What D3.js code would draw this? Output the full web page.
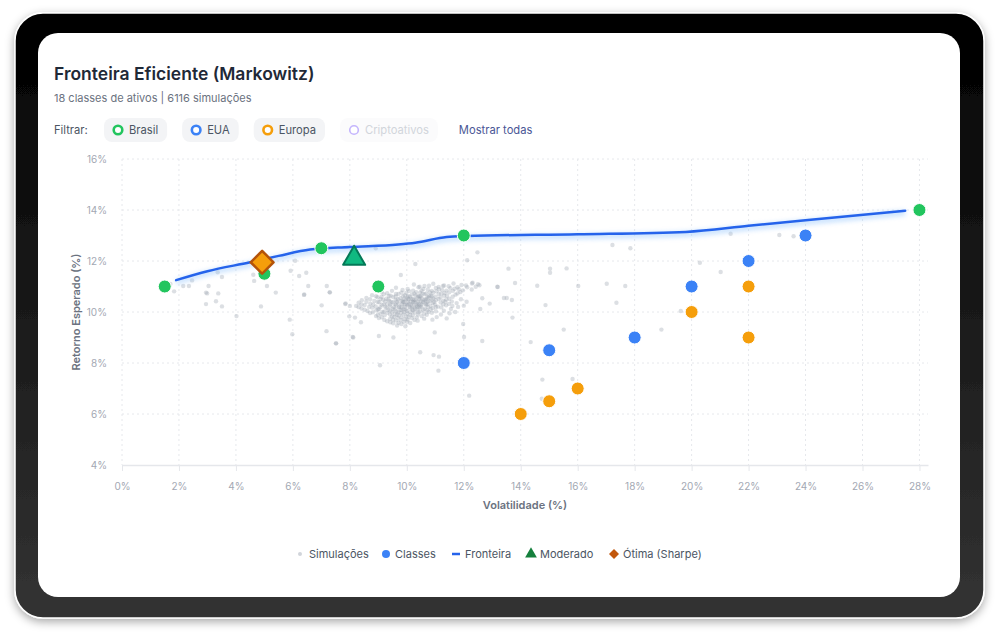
<!DOCTYPE html>
<html>
<head>
<meta charset="utf-8">
<script src="https://cdn.jsdelivr.net/npm/d3@7"></script>
<style>
  body { margin: 0; background: #fff; }
  svg { display: block; font-family: Inter, "Noto Sans", sans-serif; }
</style>
</head>
<body>
<div id="chart"></div>
<script>
// Asset classes by region: [volatility %, expected return %]
var brasil = [[1.5, 11], [5, 11.5], [7, 12.5], [9, 11], [12, 13], [28, 14]];
var eua = [[12, 8], [15, 8.5], [18, 9], [20, 11], [22, 12], [24, 13]];
var europa = [[14, 6], [15, 6.5], [16, 7], [20, 10], [22, 11], [22, 9]];

// Efficient frontier
var frontier = [[1.9, 11.25], [3, 11.6], [4.5, 11.95], [5.5, 12.2], [6.6, 12.45], [8, 12.55],
  [9.7, 12.65], [10.3, 12.72], [11.4, 12.94], [12.1, 12.98], [16, 13.05], [19.8, 13.14],
  [22, 13.38], [24, 13.6], [27.5, 13.97]];

var moderado = [8.15, 12.1];
var otima = [4.92, 11.95];

// Simulated portfolios scattered around the chart
var simulacoes = [
  [1.83,10.81],[2.15,11.02],[2.35,11.02],[2.46,11.24],[2.95,10.76],[3.04,11.02],[2.95,10.31],[3.3,10.42],
  [3.38,10.73],[3.51,10.22],[3.36,11.56],[3.51,11.37],[4.02,9.84],[4.61,11.46],[4.64,11.22],[4.88,10.22],
  [5.09,11.02],[5.4,10.76],[5.89,9.7],[5.98,9.13],[5.92,11.62],[6.08,12.01],[6.22,11.41],[6.47,11.54],
  [6.39,10.67],[6.54,11.02],[7.01,10.26],[7.19,11.02],[7.29,10.77],[7.18,9.25],[7.52,8.77],[7.84,10.31],
  [8.0,10.24],[7.98,9.83],[8.1,9.02],[8.18,9.78],[2.99,10.73],[8.91,12.5],[10.3,11.88],[12.48,12.34],
  [12.12,12.03],[17.22,12.63],[17.85,12.5],[21.37,13.07],[23.08,13.02],[23.58,12.97],[20.29,11.93],[21.02,11.57],
  [13.57,11.7],[15.03,11.7],[15.03,11.54],[15.61,11.71],[13.8,11.14],[14.58,11.03],[13.19,10.98],[16.02,11.02],
  [17.02,11.11],[17.67,11.02],[17.36,10.36],[14.87,10.27],[13.41,10.55],[13.69,10.47],[12.91,10.33],[12.65,10.54],
  [12.58,10.12],[13.71,9.78],[11.98,9.53],[12.01,9.02],[12.65,8.86],[14.35,8.82],[15.51,9.31],[18.94,9.31],
  [19.62,10.04],[14.76,7.35],[15.82,7.37],[14.74,6.6],[12.19,6.72],[11.27,11.02],[12.29,11.12],[12.5,11.09],
  [6.4,10.69],[7.3,10.77],[7.85,10.34],[8.39,9.6],[7.51,8.77],[8.12,9.0],[9.02,9.06],[9.53,9.0],
  [9.06,7.91],[9.79,11.45],[10.47,8.42],[10.94,8.31],[11.13,8.25],[11.11,7.7],[13.18,10.99],[13.51,10.55],
  [10.98,9.2],[1.7,11.1]
];

// Simulated portfolios in the dense cloud
var nuvem = [
  [10.25,11.08],[10.62,11.02],[10.93,11.11],[11.31,11.04],[11.64,11.12],[11.92,11.06],[12.31,11.15],[12.55,11.05],
  [9.62,10.95],[10.03,10.9],[10.41,10.97],[10.74,10.88],[11.02,10.94],[11.24,10.86],[11.53,10.93],[11.83,10.89],[12.12,10.97],
  [9.12,10.79],[9.48,10.83],[9.81,10.76],[10.08,10.82],[10.33,10.78],[10.52,10.84],[10.81,10.77],[11.04,10.81],
  [11.33,10.75],[11.62,10.83],[11.88,10.78],
  [8.78,10.66],[9.19,10.7],[9.43,10.64],[9.71,10.71],[9.93,10.66],[10.18,10.69],[10.41,10.63],[10.62,10.7],
  [10.84,10.65],[11.12,10.71],[11.41,10.64],[11.71,10.68],
  [8.58,10.55],[8.97,10.58],[9.28,10.52],[9.52,10.59],[9.77,10.54],[10.02,10.57],[10.21,10.51],[10.38,10.58],
  [10.53,10.54],[10.72,10.59],[10.93,10.53],[11.18,10.57],[11.49,10.52],
  [8.42,10.46],[8.86,10.43],[9.17,10.48],[9.39,10.42],[9.61,10.47],[9.82,10.44],[9.98,10.49],[10.13,10.41],
  [10.31,10.46],[10.49,10.43],[10.62,10.48],[10.81,10.42],[11.02,10.46],[11.28,10.44],[11.58,10.41],
  [8.31,10.36],[8.72,10.33],[9.03,10.38],[9.31,10.31],[9.52,10.37],[9.71,10.34],[9.91,10.39],[10.08,10.32],
  [10.23,10.36],[10.41,10.33],[10.58,10.38],[10.72,10.31],[10.91,10.35],[11.19,10.37],[11.48,10.32],
  [8.22,10.24],[8.52,10.27],[8.91,10.22],[9.12,10.28],[9.41,10.23],[9.62,10.26],[9.81,10.21],[10.02,10.27],
  [10.18,10.23],[10.33,10.26],[10.51,10.22],[10.68,10.27],[10.83,10.24],[11.09,10.21],[11.38,10.26],
  [8.41,10.14],[8.79,10.17],[9.03,10.12],[9.29,10.16],[9.51,10.13],[9.72,10.18],[9.89,10.11],[10.12,10.16],
  [10.29,10.13],[10.42,10.17],[10.63,10.12],[10.91,10.15],[11.21,10.18],
  [8.62,10.04],[8.93,10.07],[9.21,10.02],[9.42,10.06],[9.63,10.03],[9.82,10.08],[10.01,10.04],[10.22,10.06],
  [10.48,10.02],[10.71,10.07],[11.02,10.03],
  [8.71,9.96],[9.08,9.93],[9.32,9.97],[9.58,9.92],[9.79,9.96],[10.02,9.94],[10.28,9.98],[10.61,9.93],[10.88,9.97],
  [8.92,9.84],[9.22,9.87],[9.48,9.83],[9.72,9.86],[9.98,9.82],[10.21,9.87],[10.52,9.84],
  [9.02,9.76],[9.41,9.73],[9.68,9.77],[9.92,9.72],[10.18,9.76],[10.61,9.74],
  [9.31,9.64],[9.62,9.67],[9.89,9.62],[10.38,9.66],
  [9.52,9.56],[9.81,9.53],[10.12,9.57],
  [10.15,10.52],[10.45,10.61],[10.27,10.39],[10.66,10.44],[10.37,10.21],[9.93,10.29],[10.55,10.72],[10.76,10.55],
  [10.05,10.62],[9.86,10.41],[10.44,10.29],[10.88,10.63],
  [10.45,10.99],[10.78,11.03],[11.12,10.98],[11.47,11.01],[11.78,10.97],[12.08,11.04],[12.42,10.99],
  [9.85,10.86],[10.22,10.84],[10.58,10.9],[10.88,10.83],[11.13,10.89],[11.39,10.84],[11.68,10.91],[11.97,10.85],[12.28,10.88],
  [9.31,10.74],[9.62,10.71],[9.98,10.75],[10.27,10.72],[10.47,10.76],[10.68,10.73],[10.93,10.76],[11.21,10.72],
  [11.49,10.77],[11.78,10.73],
  [8.92,10.62],[9.11,10.6],[9.37,10.63],[9.61,10.61],[9.87,10.62],[10.11,10.6],[10.31,10.64],[10.49,10.61],
  [10.78,10.62],[11.01,10.6],[11.31,10.64],[11.61,10.6],
  [8.71,10.5],[9.08,10.51],[9.36,10.49],[9.69,10.5],[9.91,10.52],[10.06,10.5],[10.26,10.48],[10.44,10.51],
  [10.67,10.5],[10.87,10.49],[11.12,10.51],[11.39,10.49],
  [8.58,10.4],[8.98,10.39],[9.24,10.41],[9.46,10.39],[9.66,10.4],[9.87,10.38],[10.04,10.4],[10.21,10.39],
  [10.38,10.41],[10.55,10.39],[10.74,10.4],[10.96,10.39],[11.35,10.4],
  [8.41,10.3],[8.82,10.29],[9.19,10.3],[9.42,10.29],[9.6,10.31],[9.83,10.29],[10.0,10.3],[10.15,10.29],
  [10.36,10.3],[10.52,10.29],[10.67,10.31],[10.99,10.29],[11.28,10.3],
  [8.31,10.19],[8.68,10.2],[9.07,10.19],[9.24,10.21],[9.55,10.19],[9.73,10.2],[9.93,10.19],[10.1,10.2],
  [10.26,10.19],[10.47,10.2],[10.75,10.19],[11.02,10.2],
  [8.52,10.09],[8.99,10.1],[9.35,10.09],[9.58,10.1],[9.78,10.09],[9.96,10.1],[10.19,10.09],[10.37,10.1],
  [10.57,10.09],[10.84,10.1],
  [8.81,9.99],[9.15,10.0],[9.48,9.99],[9.7,10.0],[9.91,9.99],[10.13,10.0],[10.41,9.99],[10.76,10.0],
  [8.98,9.89],[9.41,9.9],[9.65,9.89],[9.88,9.9],[10.12,9.89],[10.39,9.9],[10.7,9.89],
  [9.12,9.79],[9.55,9.8],[9.81,9.79],[10.06,9.8],[10.35,9.79],
  [9.21,9.69],[9.52,9.7],[9.78,9.69],[10.03,9.7],[10.27,9.69],
  [9.42,9.6],[9.71,9.58],[10.01,9.62],[9.66,9.47],[9.95,9.44],
  [11.3,10.05],[11.55,10.12],[11.8,10.2],[11.2,9.9],[11.5,9.95],[11.05,9.8],[11.4,9.75],[10.9,9.7],
  [11.7,10.0],[12.0,10.25],[12.1,10.4],[11.9,10.5],[11.75,10.35],[11.6,10.24]
];

var xTicks = [0, 2, 4, 6, 8, 10, 12, 14, 16, 18, 20, 22, 24, 26, 28];
var yTicks = [4, 6, 8, 10, 12, 14, 16];

var filtros = ['Brasil', 'EUA', 'Europa', 'Criptoativos'];
var filtroCores = ['#22c55e', '#3b82f6', '#f59e0b', '#c4b5fd'];

var legendLabels = ['Simulações', 'Classes', 'Fronteira', 'Moderado', 'Ótima (Sharpe)'];

var width = 999, height = 633;

var svg = d3.select('#chart').append('svg')
  .attr('width', width)
  .attr('height', height);

var defs = svg.append('defs');
var grad = defs.append('linearGradient').attr('id', 'frameGrad')
  .attr('x1', 0).attr('y1', 0).attr('x2', 0).attr('y2', 1);
grad.append('stop').attr('offset', '0%').attr('stop-color', '#000');
grad.append('stop').attr('offset', '100%').attr('stop-color', '#333');

defs.append('filter').attr('id', 'shadow')
  .attr('x', '-5%').attr('y', '-5%').attr('width', '110%').attr('height', '115%')
  .append('feDropShadow')
  .attr('dx', 0).attr('dy', 3).attr('stdDeviation', 5)
  .attr('flood-color', '#000').attr('flood-opacity', 0.35);

defs.append('filter').attr('id', 'glow')
  .attr('x', '-5%').attr('y', '-50%').attr('width', '110%').attr('height', '200%')
  .append('feGaussianBlur').attr('stdDeviation', 2.5);

// Device frame and screen
svg.append('rect')
  .attr('x', 15).attr('y', 13).attr('width', 969).attr('height', 605).attr('rx', 28)
  .attr('fill', 'url(#frameGrad)')
  .attr('stroke', '#fff').attr('stroke-width', 1.5)
  .attr('filter', 'url(#shadow)');

svg.append('rect')
  .attr('x', 38).attr('y', 33).attr('width', 922).attr('height', 564).attr('rx', 20)
  .attr('fill', '#fff');

// Header
svg.append('text')
  .attr('x', 54).attr('y', 80)
  .attr('fill', '#1f2937')
  .style('font-size', '17.5px').style('font-weight', 600)
  .text('Fronteira Eficiente (Markowitz)');

svg.append('text')
  .attr('x', 54).attr('y', 102)
  .attr('fill', '#6b7280')
  .style('font-size', '11px')
  .text('18 classes de ativos | 6116 simulações');

svg.append('text')
  .attr('x', 54).attr('y', 134)
  .attr('fill', '#4b5563')
  .style('font-size', '11.2px')
  .text('Filtrar:');

// Filter pills
var pillX = 104;
filtros.forEach(function(f, i) {
  var off = i === 3;
  var g = svg.append('g').attr('transform', 'translate(' + pillX + ',118)');
  var bg = g.append('rect').attr('height', 24).attr('rx', 8)
    .attr('fill', off ? '#fbfbfc' : '#f3f4f6');
  g.append('circle').attr('cx', 14).attr('cy', 12).attr('r', 4.3)
    .attr('fill', '#fff')
    .attr('stroke', filtroCores[i]).attr('stroke-width', off ? 1.6 : 2.6);
  var t = g.append('text').attr('x', 25).attr('y', 16)
    .attr('fill', off ? '#d1d5db' : '#4b5563')
    .style('font-size', '11.2px')
    .text(f);
  var w = 25 + t.node().getComputedTextLength() + 9;
  bg.attr('width', w);
  pillX += w + 15;
});

svg.append('text')
  .attr('x', pillX + 6).attr('y', 134)
  .attr('fill', '#4a5696')
  .style('font-size', '11.2px')
  .text('Mostrar todas');

// Scales
var x = d3.scaleLinear().domain([0, 28.3]).range([122, 928]);
var y = d3.scaleLinear().domain([4, 16]).range([465, 159]);

// Grid
var grid = svg.append('g').attr('stroke', '#e6e8ec').attr('stroke-dasharray', '2 3');
grid.selectAll('line.h').data(yTicks.slice(1)).enter().append('line')
  .attr('x1', x(0)).attr('x2', x(28.3))
  .attr('y1', function(d) { return y(d); }).attr('y2', function(d) { return y(d); });
grid.selectAll('line.v').data(xTicks).enter().append('line')
  .attr('y1', y(16)).attr('y2', y(4))
  .attr('x1', function(d) { return x(d); }).attr('x2', function(d) { return x(d); });

// X axis
var xAxis = svg.append('g')
  .attr('transform', 'translate(0,' + y(4) + ')')
  .call(d3.axisBottom(x).tickValues(xTicks).tickFormat(function(d) { return d + '%'; })
    .tickSize(6).tickSizeOuter(0).tickPadding(12));
xAxis.select('.domain').attr('stroke', '#e5e7eb').attr('stroke-width', 1.5);
xAxis.selectAll('.tick line').attr('stroke', '#e5e7eb');
xAxis.selectAll('text').attr('fill', '#a3a8b3').style('font-size', '10px').style('font-family', 'Inter, sans-serif');

// Y axis
var yAxis = svg.append('g')
  .attr('transform', 'translate(' + x(0) + ',0)')
  .call(d3.axisLeft(y).tickValues(yTicks).tickFormat(function(d) { return d + '%'; })
    .tickSize(0).tickPadding(15));
yAxis.select('.domain').remove();
yAxis.selectAll('text').attr('fill', '#a3a8b3').style('font-size', '10px').style('font-family', 'Inter, sans-serif');

// Axis titles
svg.append('text')
  .attr('x', 525).attr('y', 509)
  .attr('text-anchor', 'middle')
  .attr('fill', '#6b7280')
  .style('font-size', '11px').style('font-weight', 600)
  .text('Volatilidade (%)');

svg.append('text')
  .attr('transform', 'translate(80,312) rotate(-90)')
  .attr('text-anchor', 'middle')
  .attr('fill', '#6b7280')
  .style('font-size', '11px').style('font-weight', 600)
  .text('Retorno Esperado (%)');

// Simulations
svg.append('g').selectAll('circle').data(simulacoes.concat(nuvem)).enter().append('circle')
  .attr('cx', function(d) { return x(d[0]); })
  .attr('cy', function(d) { return y(d[1]); })
  .attr('r', 2.2)
  .attr('fill', '#9ca3af')
  .attr('opacity', 0.35);

// Frontier with soft glow
var line = d3.line()
  .x(function(d) { return x(d[0]); })
  .y(function(d) { return y(d[1]); })
  .curve(d3.curveMonotoneX);

svg.append('path').datum(frontier)
  .attr('d', line)
  .attr('transform', 'translate(0,2)')
  .attr('fill', 'none')
  .attr('stroke', '#93c5fd').attr('stroke-width', 5).attr('opacity', 0.55)
  .attr('filter', 'url(#glow)');

svg.append('path').datum(frontier)
  .attr('d', line)
  .attr('fill', 'none')
  .attr('stroke', '#2563eb').attr('stroke-width', 2.5)
  .attr('stroke-linecap', 'round');

// Asset classes
[[brasil, '#22c55e'], [eua, '#3b82f6'], [europa, '#f59e0b']].forEach(function(s) {
  svg.append('g').selectAll('circle').data(s[0]).enter().append('circle')
    .attr('cx', function(d) { return x(d[0]); })
    .attr('cy', function(d) { return y(d[1]); })
    .attr('r', 6.5)
    .attr('fill', s[1])
    .attr('stroke', '#fff').attr('stroke-width', 1);
});

// Moderado portfolio
svg.append('path')
  .attr('d', d3.symbol(d3.symbolTriangle, 210)())
  .attr('transform', 'translate(' + x(moderado[0]) + ',' + y(moderado[1]) + ')')
  .attr('fill', '#10b981')
  .attr('stroke', '#047857').attr('stroke-width', 2)
  .attr('stroke-linejoin', 'round');

// Max Sharpe portfolio
svg.append('path')
  .attr('d', d3.symbol(d3.symbolSquare, 260)())
  .attr('transform', 'translate(' + x(otima[0]) + ',' + y(otima[1]) + ') rotate(45)')
  .attr('fill', '#f59e0b')
  .attr('stroke', '#b45309').attr('stroke-width', 2.5)
  .attr('stroke-linejoin', 'round');

// Legend
var legendX = [300, 386, 456, 531, 614];
var leg = svg.append('g').attr('transform', 'translate(0,554)');
legendLabels.forEach(function(l, i) {
  var g = leg.append('g').attr('transform', 'translate(' + legendX[i] + ',0)');
  if (i === 0) g.append('circle').attr('r', 2).attr('fill', '#d1d5db');
  if (i === 1) g.append('circle').attr('r', 4).attr('fill', '#3b82f6');
  if (i === 2) g.append('line').attr('x1', -4).attr('x2', 4)
    .attr('stroke', '#2563eb').attr('stroke-width', 2.5);
  if (i === 3) g.append('path').attr('d', d3.symbol(d3.symbolTriangle, 60)())
    .attr('fill', '#15803d');
  if (i === 4) g.append('path').attr('d', d3.symbol(d3.symbolSquare, 50)())
    .attr('transform', 'rotate(45)').attr('fill', '#c2570c');
  g.append('text').attr('x', 9).attr('y', 4)
    .attr('fill', '#4b5563')
    .style('font-size', '11px')
    .text(l);
});
</script>
</body>
</html>
